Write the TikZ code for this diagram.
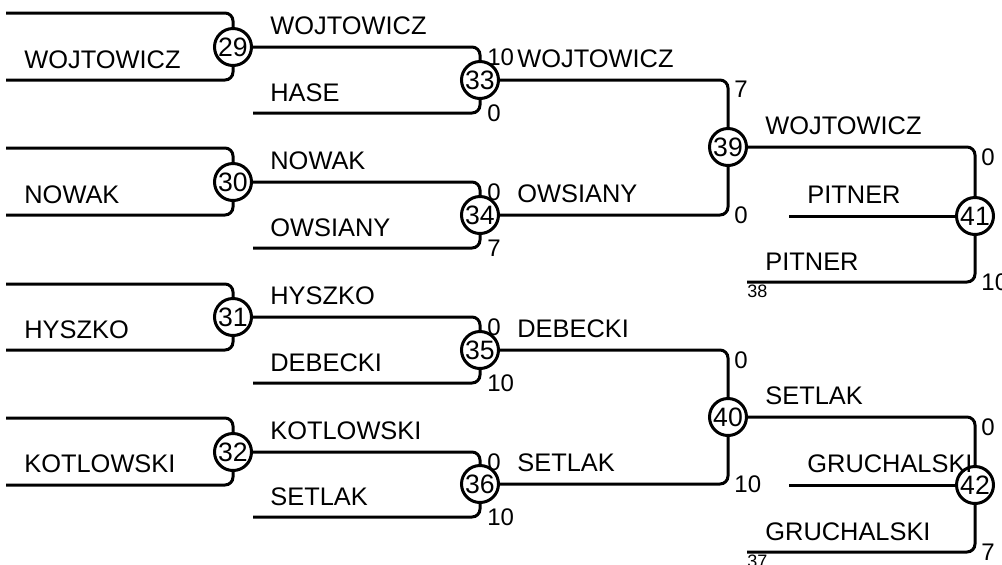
\documentclass[tikz,border=0pt]{standalone}
\usepackage{fontspec}
\setmainfont{Liberation Sans}
\usetikzlibrary{positioning, calc}

\begin{document}
\begin{tikzpicture}[
        x=0.5pt, y=-0.5pt,
        game/.style={
            draw,
            circle,
            line width=1.5pt,
            minimum size=18.5pt,
            inner sep=0pt,
            font=\fontsize{13.3}{14}\selectfont
        },
        bracket/.style={
            line width=1.5pt,
            rounded corners=4pt
        },
        player/.style={
            anchor=base west,
            inner sep=0pt,
            font=\fontsize{12.7}{14}\selectfont
        },
        score/.style={
            inner sep=0pt,
            font=\fontsize{12}{13}\selectfont
        },
        seed/.style={
            anchor=north west,
            inner sep=0pt,
            font=\fontsize{9}{10}\selectfont
        }
    ]

        \useasboundingbox (0,0) rectangle (1002,564);

        % ---------------------------------------------------------------------
        % Games
        % ---------------------------------------------------------------------

        \node[game] (m29) at (233,47) {29};
        \node[game] (m30) at (233,182) {30};
        \node[game] (m31) at (233,317) {31};
        \node[game] (m32) at (233,452) {32};

        \node[game] (m33) at (480,80) {33};
        \node[game] (m34) at (480,215) {34};
        \node[game] (m35) at (480,350) {35};
        \node[game] (m36) at (480,484) {36};

        \node[game] (m39) at (728,147) {39};
        \node[game] (m40) at (728,417) {40};

        \node[game] (m41) at (975,216) {41};
        \node[game] (m42) at (975,485) {42};

        % ---------------------------------------------------------------------
        % Free line ends
        % ---------------------------------------------------------------------

        \coordinate (a29) at (6,13);
        \coordinate (b29) at (6,80);
        \coordinate (a30) at (6,148);
        \coordinate (b30) at (6,215);
        \coordinate (a31) at (6,284);
        \coordinate (b31) at (6,350);
        \coordinate (a32) at (6,418);
        \coordinate (b32) at (6,485);

        \coordinate (b33) at (253,113);
        \coordinate (b34) at (253,248);
        \coordinate (b35) at (253,383);
        \coordinate (b36) at (253,517);

        \coordinate (c41) at (789,216);
        \coordinate (b41) at (747,282);
        \coordinate (c42) at (789,485);
        \coordinate (b42) at (747,552);

        % ---------------------------------------------------------------------
        % Bracket lines
        % ---------------------------------------------------------------------

        \draw[bracket] (a29) -| (m29);
        \draw[bracket] (b29) -| (m29);
        \draw[bracket] (a30) -| (m30);
        \draw[bracket] (b30) -| (m30);
        \draw[bracket] (a31) -| (m31);
        \draw[bracket] (b31) -| (m31);
        \draw[bracket] (a32) -| (m32);
        \draw[bracket] (b32) -| (m32);

        \draw[bracket] (m29) -| (m33);
        \draw[bracket] (b33) -| (m33);
        \draw[bracket] (m30) -| (m34);
        \draw[bracket] (b34) -| (m34);
        \draw[bracket] (m31) -| (m35);
        \draw[bracket] (b35) -| (m35);
        \draw[bracket] (m32) -| (m36);
        \draw[bracket] (b36) -| (m36);

        \draw[bracket] (m33) -| (m39);
        \draw[bracket] (m34) -| (m39);
        \draw[bracket] (m35) -| (m40);
        \draw[bracket] (m36) -| (m40);

        \draw[bracket] (m39) -| (m41);
        \draw[bracket] (c41) -- (m41);
        \draw[bracket] (b41) -| (m41);
        \draw[bracket] (m40) -| (m42);
        \draw[bracket] (c42) -- (m42);
        \draw[bracket] (b42) -| (m42);

        % ---------------------------------------------------------------------
        % Players
        % ---------------------------------------------------------------------

        \node[player] (p29) at (24,68) {WOJTOWICZ};
        \node[player] (p30) at (24,203) {NOWAK};
        \node[player] (p31) at (24,338) {HYSZKO};
        \node[player] (p32) at (24,472) {KOTLOWSKI};

        \node[player] (p33a) at (270,34) {WOJTOWICZ};
        \node[player] (p33b) at (270,101) {HASE};
        \node[player] (p34a) at (270,169) {NOWAK};
        \node[player] (p34b) at (270,236) {OWSIANY};
        \node[player] (p35a) at (270,304) {HYSZKO};
        \node[player] (p35b) at (270,371) {DEBECKI};
        \node[player] (p36a) at (270,439) {KOTLOWSKI};
        \node[player] (p36b) at (270,505) {SETLAK};

        \node[player] (p39a) at (517,67) {WOJTOWICZ};
        \node[player] (p39b) at (517,202) {OWSIANY};
        \node[player] (p40a) at (517,337) {DEBECKI};
        \node[player] (p40b) at (517,471) {SETLAK};

        \node[player] (p41a) at (765,134) {WOJTOWICZ};
        \node[player] (p41c) at (807,203) {PITNER};
        \node[player] (p41b) at (765,270) {PITNER};
        \node[player] (p42a) at (765,404) {SETLAK};
        \node[player] (p42c) at (807,472) {GRUCHALSKI};
        \node[player] (p42b) at (765,540) {GRUCHALSKI};

        % ---------------------------------------------------------------------
        % Scores
        % ---------------------------------------------------------------------

        \node[score, anchor=north west] (s33a) at ($(m33 |- m29)+(7,1)$) {10};
        \node[score, anchor=west] (s33b) at ($(m33 |- b33)+(7,0)$) {0};
        \node[score, anchor=north west] (s34a) at ($(m34 |- m30)+(7,1)$) {0};
        \node[score, anchor=west] (s34b) at ($(m34 |- b34)+(7,0)$) {7};
        \node[score, anchor=north west] (s35a) at ($(m35 |- m31)+(7,1)$) {0};
        \node[score, anchor=west] (s35b) at ($(m35 |- b35)+(7,0)$) {10};
        \node[score, anchor=north west] (s36a) at ($(m36 |- m32)+(7,1)$) {0};
        \node[score, anchor=west] (s36b) at ($(m36 |- b36)+(7,0)$) {10};

        \node[score, anchor=north west] (s39a) at ($(m39 |- m33)+(6,1)$) {7};
        \node[score, anchor=west] (s39b) at ($(m39 |- m34)+(6,0)$) {0};
        \node[score, anchor=north west] (s40a) at ($(m40 |- m35)+(6,1)$) {0};
        \node[score, anchor=west] (s40b) at ($(m40 |- m36)+(6,0)$) {10};

        \node[score, anchor=north west] (s41a) at ($(m41 |- m39)+(6,1)$) {0};
        \node[score, anchor=west] (s41b) at ($(m41 |- b41)+(6,0)$) {10};
        \node[score, anchor=north west] (s42a) at ($(m42 |- m40)+(6,1)$) {0};
        \node[score, anchor=west] (s42b) at ($(m42 |- b42)+(6,0)$) {7};

        % ---------------------------------------------------------------------
        % Seeds
        % ---------------------------------------------------------------------

        \node[seed] (d38) at ($(b41)+(0,3)$) {38};
        \node[seed] (d37) at ($(b42)+(0,3)$) {37};

    \end{tikzpicture}
\end{document}
